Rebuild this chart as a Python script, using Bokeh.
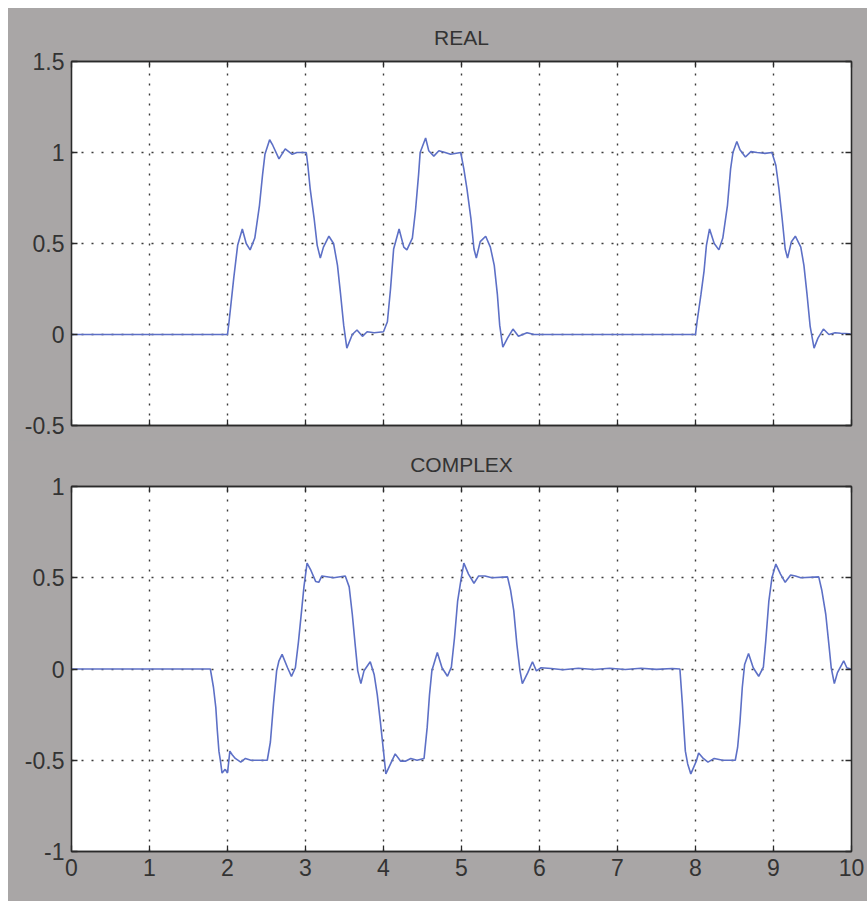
from bokeh.plotting import figure
from bokeh.models import LinearAxis, FixedTicker, Range1d
from bokeh.layouts import column
from bokeh.embed import file_html
from bokeh.resources import INLINE

# ---------------- data ----------------
x_ticks = [0, 1, 2, 3, 4, 5, 6, 7, 8, 9, 10]
x_tick_labels = ["0", "1", "2", "3", "4", "5", "6", "7", "8", "9", "10"]

real_y_ticks = [-0.5, 0, 0.5, 1, 1.5]
real_y_tick_labels = ["-0.5", "0", "0.5", "1", "1.5"]
cplx_y_ticks = [-1, -0.5, 0, 0.5, 1]
cplx_y_tick_labels = ["-1", "-0.5", "0", "0.5", "1"]

real_t = [0, 2.0, 2.02, 2.08, 2.13, 2.19, 2.24, 2.29, 2.35, 2.41, 2.45, 2.48, 2.54, 2.58,
          2.66, 2.74, 2.83, 2.89, 3.01, 3.03, 3.06, 3.11, 3.15, 3.19, 3.23, 3.30, 3.36,
          3.41, 3.45, 3.49, 3.53, 3.60, 3.66, 3.73, 3.79, 3.88, 4.00, 4.05, 4.09, 4.13,
          4.20, 4.26, 4.30, 4.37, 4.41, 4.45, 4.47, 4.54, 4.58, 4.645, 4.71, 4.79, 4.86,
          4.99, 5.03, 5.07, 5.12, 5.16, 5.19, 5.24, 5.31, 5.37, 5.42, 5.46, 5.49, 5.53,
          5.59, 5.66, 5.73, 5.84, 5.93, 8.0, 8.02, 8.07, 8.11, 8.14, 8.18, 8.24, 8.30,
          8.35, 8.41, 8.45, 8.48, 8.53, 8.57, 8.64, 8.71, 8.79, 8.89, 8.98, 9.03, 9.07,
          9.11, 9.15, 9.18, 9.23, 9.28, 9.35, 9.39, 9.43, 9.47, 9.52, 9.57, 9.64, 9.71,
          9.79, 9.86, 9.97, 10.0]
real_v = [0, 0, 0.07, 0.31, 0.49, 0.58, 0.50, 0.465, 0.53, 0.71, 0.88, 0.99, 1.07, 1.04,
          0.965, 1.02, 0.99, 1.0, 1.0, 0.93, 0.80, 0.64, 0.49, 0.42, 0.48, 0.54, 0.50,
          0.38, 0.22, 0.05, -0.075, 0.0, 0.025, -0.01, 0.015, 0.01, 0.015, 0.07, 0.25, 0.47,
          0.58, 0.48, 0.465, 0.53, 0.68, 0.88, 1.0, 1.08, 1.01, 0.98, 1.01, 1.0, 0.99,
          1.0, 0.91, 0.80, 0.64, 0.47, 0.42, 0.51, 0.54, 0.48, 0.38, 0.22, 0.05, -0.07,
          -0.02, 0.03, -0.01, 0.01, 0.0, 0.0, 0.07, 0.22, 0.35, 0.49, 0.58, 0.50, 0.465,
          0.53, 0.71, 0.91, 1.0, 1.06, 1.015, 0.975, 1.005, 1.0, 0.995, 1.0, 0.93, 0.80,
          0.64, 0.47, 0.42, 0.51, 0.54, 0.48, 0.38, 0.22, 0.045, -0.075, -0.02, 0.03, 0.0,
          0.01, 0.007, 0.004, 0.0]

cplx_t = [0, 1.78, 1.82, 1.85, 1.87, 1.89, 1.91, 1.93, 1.97, 2.0, 2.03, 2.06, 2.10, 2.17,
          2.23, 2.30, 2.51, 2.55, 2.59, 2.63, 2.66, 2.70, 2.77, 2.82, 2.87, 2.91, 2.95,
          2.98, 3.02, 3.07, 3.13, 3.17, 3.21, 3.36, 3.51, 3.56, 3.60, 3.64, 3.67, 3.71,
          3.75, 3.83, 3.88, 3.92, 3.96, 4.00, 4.03, 4.09, 4.15, 4.22, 4.28, 4.35, 4.43,
          4.52, 4.56, 4.59, 4.62, 4.69, 4.75, 4.82, 4.87, 4.91, 4.95, 4.99, 5.03, 5.09,
          5.16, 5.22, 5.30, 5.39, 5.59, 5.63, 5.67, 5.71, 5.75, 5.78, 5.85, 5.91, 5.96,
          6.02, 6.15, 6.3, 6.5, 6.7, 6.9, 7.1, 7.3, 7.5, 7.7, 7.80, 7.83, 7.85, 7.87,
          7.90, 7.94, 8.01, 8.04, 8.10, 8.16, 8.24, 8.35, 8.51, 8.54, 8.57, 8.60, 8.63,
          8.68, 8.74, 8.81, 8.87, 8.90, 8.94, 8.98, 9.03, 9.09, 9.15, 9.22, 9.28, 9.35,
          9.58, 9.62, 9.67, 9.71, 9.74, 9.78, 9.82, 9.90, 9.94, 9.99]
cplx_v = [0, 0, -0.10, -0.21, -0.34, -0.45, -0.505, -0.57, -0.55, -0.57, -0.45, -0.47,
          -0.49, -0.51, -0.49, -0.5, -0.5, -0.40, -0.19, -0.01, 0.045, 0.08, 0.007, -0.04,
          0.007, 0.15, 0.32, 0.45, 0.58, 0.54, 0.48, 0.475, 0.51, 0.50, 0.51, 0.45, 0.30,
          0.12, -0.01, -0.08, -0.01, 0.04, -0.03, -0.14, -0.29, -0.45, -0.575, -0.52,
          -0.465, -0.505, -0.505, -0.49, -0.5, -0.49, -0.32, -0.14, -0.01, 0.09, 0.007,
          -0.04, 0.01, 0.17, 0.37, 0.48, 0.58, 0.52, 0.47, 0.51, 0.51, 0.50, 0.505, 0.43,
          0.32, 0.135, -0.01, -0.08, -0.02, 0.04, -0.01, 0.007, 0.003, -0.004, 0.004,
          -0.003, 0.004, -0.003, 0.004, -0.002, 0.003, 0.0, -0.18, -0.32, -0.45, -0.52,
          -0.575, -0.505, -0.46, -0.49, -0.51, -0.49, -0.5, -0.5, -0.43, -0.29, -0.10,
          0.025, 0.085, 0.007, -0.04, 0.01, 0.15, 0.37, 0.50, 0.575, 0.52, 0.475, 0.515,
          0.51, 0.50, 0.505, 0.43, 0.30, 0.135, 0.007, -0.08, -0.02, 0.045, 0.007, 0.0]

# ---------------- styling ----------------
BG = "#a9a6a6"
LINE = "#5d70c6"
FONT = "Liberation Sans"
INK = "#2a2a2a"
TEXT = "#333333"


def style_axis(ax, ticks, labels, show_labels):
    ax.ticker = FixedTicker(ticks=ticks)
    ax.major_label_text_font = FONT
    ax.major_label_text_color = TEXT
    if show_labels:
        ax.major_label_overrides = {t: l for t, l in zip(ticks, labels)}
        ax.major_label_text_font_size = "23px"
        ax.major_label_standoff = 7
    else:
        ax.major_label_overrides = {t: "" for t in ticks}
        ax.major_label_text_font_size = "1px"
        ax.major_label_standoff = 0
    ax.axis_line_color = INK
    ax.axis_line_width = 1.3
    ax.major_tick_line_color = INK
    ax.major_tick_line_width = 1.3
    ax.major_tick_in = 6
    ax.major_tick_out = 0
    ax.minor_tick_line_color = None


def make_panel(title, yr, yticks, ylabels, tt, vv, show_x, border_top, border_bottom,
               title_standoff):
    p = figure(frame_width=780, frame_height=364 if not show_x else 365,
               x_range=Range1d(0, 10), y_range=Range1d(*yr),
               output_backend="svg", toolbar_location=None,
               min_border_left=63, min_border_right=16,
               min_border_top=border_top, min_border_bottom=border_bottom,
               border_fill_color=BG, background_fill_color="white",
               outline_line_color=INK, outline_line_width=1.3)
    p.title.text = title
    p.title.align = "center"
    p.title.text_font = FONT
    p.title.text_font_size = "21px"
    p.title.text_font_style = "normal"
    p.title.text_color = TEXT
    p.title.standoff = title_standoff

    style_axis(p.xaxis[0], x_ticks, x_tick_labels, show_x)
    style_axis(p.yaxis[0], yticks, ylabels, True)
    top = LinearAxis()
    style_axis(top, x_ticks, x_tick_labels, False)
    p.add_layout(top, "above")
    right = LinearAxis()
    style_axis(right, yticks, ylabels, False)
    p.add_layout(right, "right")

    p.xgrid.ticker = FixedTicker(ticks=x_ticks)
    p.ygrid.ticker = FixedTicker(ticks=yticks)
    p.grid.grid_line_color = "#3a3a3a"
    p.grid.grid_line_width = 1.4
    p.grid.grid_line_dash = "2 8"

    p.line(tt, vv, line_color=LINE, line_width=1.6)
    return p


p1 = make_panel("REAL", (-0.5, 1.5), real_y_ticks, real_y_tick_labels,
                real_t, real_v, False, 53, 15, 25)
p2 = make_panel("COMPLEX", (-1, 1), cplx_y_ticks, cplx_y_tick_labels,
                cplx_t, cplx_v, True, 46, 50, 21)

layout = column(p1, p2, spacing=0, margin=(8, 0, 0, 8),
                styles={"background-color": BG})
open("out.html", "w").write(file_html(layout, INLINE))
